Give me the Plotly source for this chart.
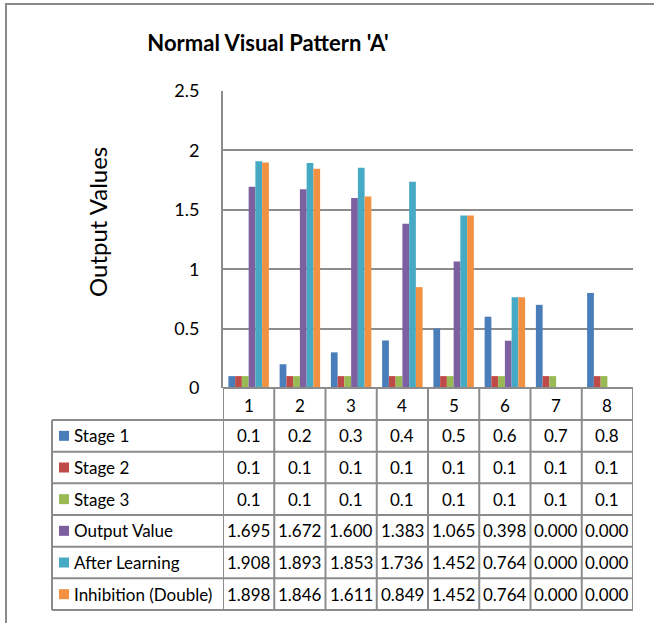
import plotly.graph_objects as go

categories = [1, 2, 3, 4, 5, 6, 7, 8]
series_names = ["Stage 1", "Stage 2", "Stage 3", "Output Value", "After Learning", "Inhibition (Double)"]
stage1 = [0.1, 0.2, 0.3, 0.4, 0.5, 0.6, 0.7, 0.8]
stage2 = [0.1, 0.1, 0.1, 0.1, 0.1, 0.1, 0.1, 0.1]
stage3 = [0.1, 0.1, 0.1, 0.1, 0.1, 0.1, 0.1, 0.1]
output_value = [1.695, 1.672, 1.600, 1.383, 1.065, 0.398, 0.000, 0.000]
after_learning = [1.908, 1.893, 1.853, 1.736, 1.452, 0.764, 0.000, 0.000]
inhibition = [1.898, 1.846, 1.611, 0.849, 1.452, 0.764, 0.000, 0.000]
series_values = [stage1, stage2, stage3, output_value, after_learning, inhibition]
value_formats = ["{:.1f}", "{:.1f}", "{:.1f}", "{:.3f}", "{:.3f}", "{:.3f}"]
colors = ["#4A7EBB", "#BE4B48", "#98B954", "#7D60A0", "#46AAC5", "#F39142"]
y_ticks = [0, 0.5, 1, 1.5, 2, 2.5]

W, H = 654, 623
L, R, T, B = 223, 633, 91, 388
FONT = "Lato"
GRID = "#8c8c8c"


def px(xp):
    return (xp - L) / (R - L)


def py(yp):
    return (B - yp) / (B - T)


fig = go.Figure()
for name, vals, col in zip(series_names, series_values, colors):
    fig.add_trace(go.Bar(x=categories, y=vals, name=name, marker=dict(color=col, line=dict(width=0))))

shapes = []
annotations = []

header_bottom = 420
row_h = (610 - 420) / 6
table_left = 52
table_bottom = 610

for b in [c - 0.5 for c in categories] + [categories[-1] + 0.5]:
    shapes.append(dict(type="line", xref="x", yref="paper", x0=b, x1=b,
                       y0=py(B), y1=py(table_bottom), line=dict(color=GRID, width=2)))
shapes.append(dict(type="line", xref="paper", yref="paper", x0=px(table_left), x1=px(table_left),
                   y0=py(header_bottom), y1=py(table_bottom), line=dict(color=GRID, width=2)))
shapes.append(dict(type="line", xref="x", yref="paper", x0=categories[0] - 0.5, x1=categories[-1] + 0.5,
                   y0=py(B), y1=py(B), line=dict(color=GRID, width=2)))
for i in range(7):
    yy = header_bottom + i * row_h
    shapes.append(dict(type="line", xref="paper", yref="paper", x0=px(table_left), x1=1,
                       y0=py(yy), y1=py(yy), line=dict(color=GRID, width=2)))

TXT = dict(family=FONT, size=17, color="#000")
for c in categories:
    annotations.append(dict(x=c, y=py((B + header_bottom) / 2 + 1), xref="x", yref="paper",
                            xanchor="center", yanchor="middle",
                            text=str(c), showarrow=False, font=TXT))

for i, (name, vals, col, fmt) in enumerate(zip(series_names, series_values, colors, value_formats)):
    yc = header_bottom + (i + 0.5) * row_h
    shapes.append(dict(type="rect", xref="paper", yref="paper", x0=px(59), x1=px(69),
                       y0=py(yc - 5), y1=py(yc + 5), fillcolor=col, line=dict(width=0)))
    annotations.append(dict(x=px(72), y=py(yc), xref="paper", yref="paper", xanchor="left", yanchor="middle",
                            text=name, showarrow=False, font=TXT))
    for c, v in zip(categories, vals):
        annotations.append(dict(x=c, y=py(yc), xref="x", yref="paper", xanchor="center", yanchor="middle",
                                text=fmt.format(v), showarrow=False, font=TXT))

annotations.append(dict(x=px(97), y=py(222), xref="paper", yref="paper", xanchor="center", yanchor="middle",
                        text="Output Values", textangle=-90, showarrow=False,
                        font=dict(family=FONT, size=24, color="#000")))

shapes.append(dict(type="rect", xref="paper", yref="paper", x0=px(6), x1=px(670), y0=py(4), y1=py(640),
                   line=dict(color="#8a8a8a", width=2), fillcolor="rgba(0,0,0,0)", layer="below"))

fig.update_layout(
    width=W, height=H,
    margin=dict(l=L, r=W - R, t=T, b=H - B, pad=0),
    paper_bgcolor="white", plot_bgcolor="white",
    barmode="group", bargap=0.21, bargroupgap=0,
    showlegend=False,
    title=dict(text="<b>Normal Visual Pattern 'A'</b>", x=268 / W, xanchor="center",
               y=1 - 43 / H, yanchor="middle", font=dict(family=FONT, size=22, color="#000")),
    xaxis=dict(range=[categories[0] - 0.5, categories[-1] + 0.5], showticklabels=False, showgrid=False,
               zeroline=False, showline=False, fixedrange=True),
    yaxis=dict(range=[0, 2.5], tickvals=y_ticks, showgrid=True, gridcolor=GRID, gridwidth=2,
               zeroline=False, showline=True, linecolor=GRID, linewidth=2, ticks="",
               ticklabelstandoff=18, tickfont=dict(family=FONT, size=18, color="#000")),
    shapes=shapes, annotations=annotations,
)

fig.write_html("out.html", config={"displayModeBar": False},
               post_script="document.body.style.margin='0';document.body.style.overflow='hidden';")
